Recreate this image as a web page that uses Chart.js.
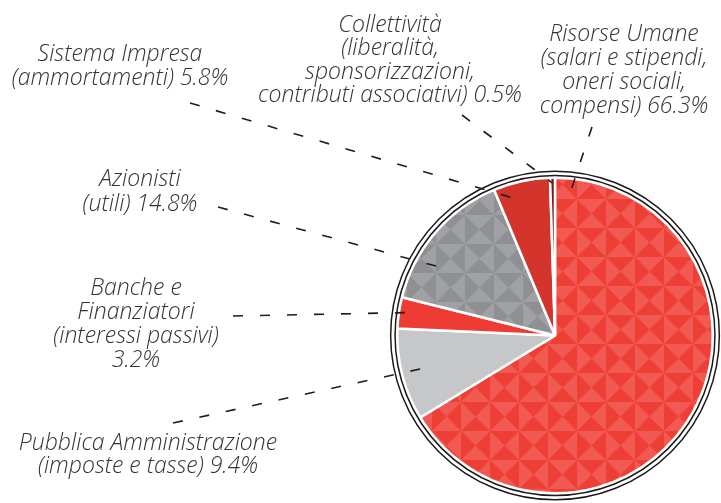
<!DOCTYPE html>
<html>
<head>
<meta charset="utf-8">
<script src="https://cdn.jsdelivr.net/npm/chart.js@4/dist/chart.umd.min.js"></script>
<style>
html,body{margin:0;padding:0;background:#fff;}
#wrap{position:relative;width:721px;height:503px;}
</style>
</head>
<body>
<div id="wrap"><canvas id="c" width="721" height="503"></canvas></div>
<script>
// ---- data ----
const categories = [
  "Risorse Umane",
  "Pubblica Amministrazione",
  "Banche e Finanziatori",
  "Azionisti",
  "Sistema Impresa",
  "Collettività"
];
const values = [66.3, 9.4, 3.2, 14.8, 5.8, 0.5];
const labelLines = [
  ["Risorse Umane", "(salari e stipendi,", "oneri sociali,", "compensi) 66.3%"],
  ["Pubblica Amministrazione", "(imposte e tasse) 9.4%"],
  ["Banche e", "Finanziatori", "(interessi passivi)", "3.2%"],
  ["Azionisti", "(utili) 14.8%"],
  ["Sistema Impresa", "(ammortamenti) 5.8%"],
  ["Collettività", "(liberalità,", "sponsorizzazioni,", "contributi associativi) 0.5%"]
];

// ---- layout (text placement and leader lines) ----
const labelLayout = [
  {cx: 624, cy: 34, lh: 24, sx: 592, sy: 127, ang: 6.5,   rf: 0.943},
  {cx: 148, cy: 443, lh: 23, sx: 173, sy: 423, ang: -104,  rf: 0.861},
  {cx: 136, cy: 288, lh: 24, sx: 233, sy: 316, ang: -81.2, rf: 0.949},
  {cx: 140, cy: 179, lh: 25, sx: 218, sy: 207, ang: -59.5, rf: 0.861},
  {cx: 120, cy: 54,  lh: 24, sx: 190, sy: 103, ang: -16.9, rf: 0.911},
  {cx: 390, cy: 25,  lh: 23.5, sx: 462, sy: 115, ang: -1.1, rf: 0.968}
];

const canvas = document.getElementById('c');
const ctx = canvas.getContext('2d');

function makePattern(dark, light, ox, oy, s) {
  const c = document.createElement('canvas');
  c.width = c.height = 2 * s;
  const g = c.getContext('2d');
  for (let i = 0; i < 2; i++) {
    for (let j = 0; j < 2; j++) {
      const x = i * s, y = j * s, m = s / 2;
      g.fillStyle = dark;
      g.fillRect(x, y, s, s);
      g.fillStyle = light;
      g.beginPath();
      if ((i + j) % 2 === 0) {
        g.moveTo(x, y); g.lineTo(x + m, y + m); g.lineTo(x, y + s); g.closePath();
        g.moveTo(x + s, y); g.lineTo(x + m, y + m); g.lineTo(x + s, y + s); g.closePath();
      } else {
        g.moveTo(x, y); g.lineTo(x + m, y + m); g.lineTo(x + s, y); g.closePath();
        g.moveTo(x, y + s); g.lineTo(x + m, y + m); g.lineTo(x + s, y + s); g.closePath();
      }
      g.fill();
    }
  }
  const p = ctx.createPattern(c, 'repeat');
  if (p.setTransform) p.setTransform(new DOMMatrix().translate(ox, oy));
  return p;
}

const redPattern = makePattern('#EE3F37', '#F15A52', 26, 25, 29);
const grayPattern = makePattern('#8F9094', '#A0A1A5', 1, 12, 29);

const sliceColors = [redPattern, '#C6C7C9', '#EE3C34', grayPattern, '#D3352D', '#7B1B18'];

const FONT = 'italic 300 23px "Open Sans", "Liberation Sans", sans-serif';

const decorPlugin = {
  id: 'decor',
  afterDatasetsDraw(chart) {
    const c = chart.ctx;
    const arc = chart.getDatasetMeta(0).data[0];
    const X = arc.x, Y = arc.y, R = arc.outerRadius;
    c.save();
    c.strokeStyle = '#1a1a1a';
    c.lineWidth = 1.5;
    c.beginPath(); c.arc(X, Y, R + 2.2, 0, Math.PI * 2); c.stroke();
    c.beginPath(); c.arc(X, Y, R + 6.6, 0, Math.PI * 2); c.stroke();
    c.setLineDash([10, 17]);
    c.lineWidth = 1.6;
    c.strokeStyle = '#1e1e1e';
    labelLayout.forEach((L) => {
      const a = L.ang * Math.PI / 180;
      const ex = X + Math.sin(a) * R * L.rf;
      const ey = Y - Math.cos(a) * R * L.rf;
      c.beginPath(); c.moveTo(L.sx, L.sy); c.lineTo(ex, ey); c.stroke();
    });
    c.setLineDash([]);
    c.font = FONT;
    c.fillStyle = '#333333';
    c.textAlign = 'center';
    c.textBaseline = 'middle';
    labelLayout.forEach((L, i) => {
      labelLines[i].forEach((t, k) => c.fillText(t, L.cx, L.cy + k * L.lh));
    });
    c.restore();
  }
};

new Chart(canvas, {
  type: 'pie',
  data: {
    labels: categories,
    datasets: [{
      data: values,
      backgroundColor: sliceColors,
      borderColor: '#ffffff',
      borderWidth: 2.5,
      hoverOffset: 0
    }]
  },
  options: {
    responsive: false,
    animation: false,
    events: [],
    layout: {padding: {left: 396, right: 7, top: 176.5, bottom: 8.5}},
    plugins: {legend: {display: false}, tooltip: {enabled: false}}
  },
  plugins: [decorPlugin]
});
</script>
</body>
</html>
